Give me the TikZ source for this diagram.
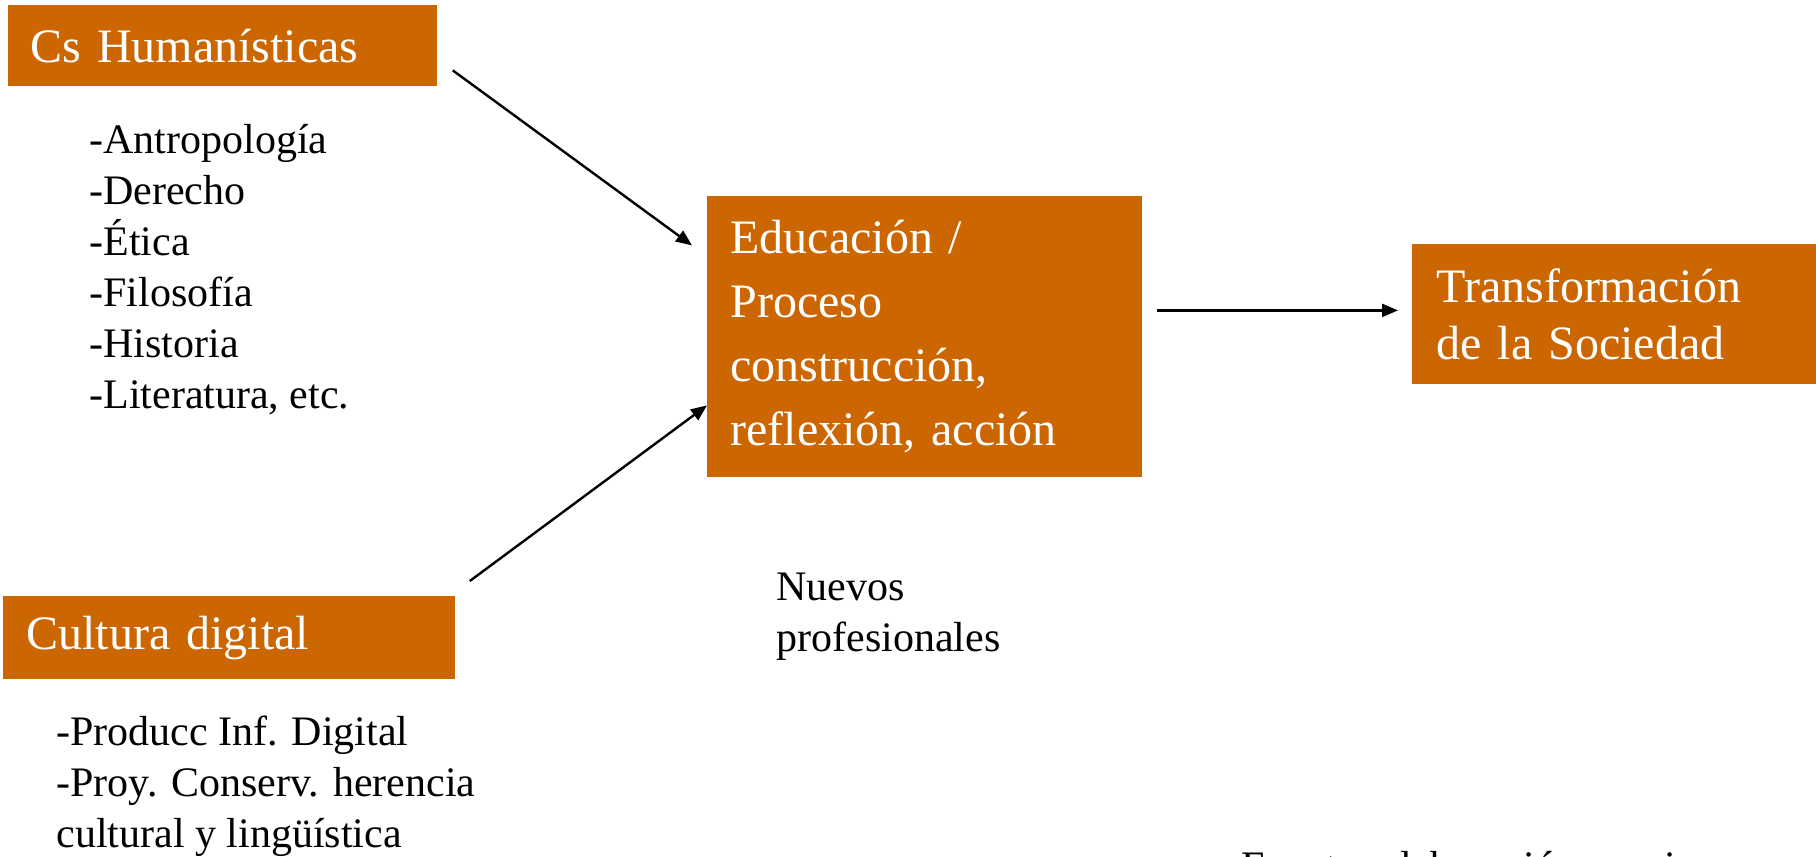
\documentclass[tikz,border=0pt]{standalone}
\usepackage{fontspec}
\setmainfont{Liberation Serif}
\usetikzlibrary{arrows.meta}
\definecolor{naranja}{HTML}{CC6600}
\tikzset{
  caja/.style={fill=naranja, text=white, anchor=north west, align=left,
    inner ysep=0pt, font=\fontsize{24}{32}\selectfont},
  lista/.style={anchor=base west, align=left, inner sep=0pt,
    font=\fontsize{21}{25.5}\selectfont},
  flecha/.style={-{Triangle[length=8pt,width=6.5pt]}, line width=1.2pt}
}
\begin{document}
\begin{tikzpicture}[x=0.5pt, y=-0.5pt]
    \useasboundingbox (0,0) rectangle (1816,857);

    \node[caja, minimum width=214.5pt, minimum height=40.5pt, inner xsep=11pt,
      text width=192.5pt] (hum) at (8,5) {Cs Humanísticas};
    \node[caja, minimum width=226pt, minimum height=41.5pt, inner xsep=11.5pt,
      text width=203pt] (dig) at (3,596) {Cultura digital};
    \node[caja, minimum width=217.5pt, minimum height=140.5pt, inner xsep=11.5pt,
      text width=194.5pt] (edu) at (707,196)
      {Educación /\\ Proceso\\ construcción,\\ reflexión, acción};
    \node[caja, minimum width=202pt, minimum height=70pt, inner xsep=12pt,
      text width=178pt, font=\fontsize{24}{28.5}\selectfont] (soc) at (1412,244)
      {Transformación\\ de la Sociedad};

    % base = last line
    \node[lista] (humlista) at (89,408)
      {-Antropología\\ -Derecho\\ -Ética\\ -Filosofía\\ -Historia\\ -Literatura, etc.};
    \node[lista] (diglista) at (56,847)
      {-Producc Inf. Digital\\ -Proy. Conserv. herencia\\ cultural y lingüística};
    \node[lista] (nuevos) at (776,651) {Nuevos\\ profesionales};
    \node[lista] (fuente) at (1241,880) {Fuente: elaboración propia};

    \draw[flecha] ([xshift=7.5pt,yshift=-12.25pt]hum.east) -- ([xshift=-7.5pt,yshift=45.75pt]edu.west);
    \draw[flecha] ([xshift=7pt,yshift=7.5pt]dig.north east) -- ([yshift=-34.25pt]edu.west);
    \draw[flecha] ([xshift=7pt,yshift=13.25pt]edu.east) -- ([xshift=-7pt,yshift=2pt]soc.west);
\end{tikzpicture}
\end{document}
